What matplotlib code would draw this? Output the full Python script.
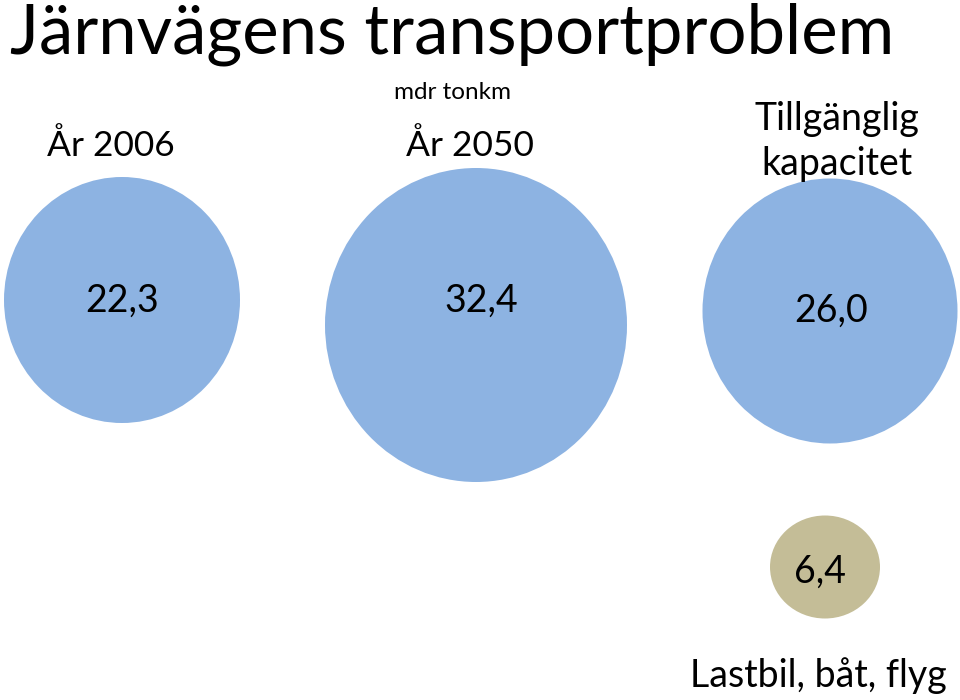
import matplotlib
matplotlib.use('Agg')
import matplotlib.pyplot as plt
from matplotlib.patches import Ellipse

# Data (mdr tonkm).
categories = ['År 2006', 'År 2050', 'Tillgänglig\nkapacitet', 'Lastbil, båt, flyg']
values = [22.3, 32.4, 26.0, 6.4]
title = 'Järnvägens transportproblem'
unit = 'mdr tonkm'

# Layout in pixels (x, y from the top left corner).
centers = [(122, 300), (476, 325), (830, 311), (825, 567)]
sizes = [(236, 246), (302, 314), (255, 265), (110, 103)]
colors = ['#8DB3E2', '#8DB3E2', '#8DB3E2', '#C4BD97']
value_pos = [(122, 312), (481, 312), (831, 322), (820, 583)]
cat_pos = [(111, 156), (470, 156), (837, 130), (818, 687)]
cat_sizes = [25.5, 25.5, 27, 27]

plt.rcParams['font.family'] = ['Lato', 'DejaVu Sans']

fig = plt.figure(figsize=(9.6, 7), dpi=100)
ax = fig.add_axes([0, 0, 1, 1])
ax.set_xlim(0, 960)
ax.set_ylim(700, 0)
ax.axis('off')

for (cx, cy), (w, h), c in zip(centers, sizes, colors):
    ax.add_patch(Ellipse((cx, cy), w, h, facecolor=c, edgecolor='none'))

for v, (x, y) in zip(values, value_pos):
    ax.text(x, y, f'{v:.1f}'.replace('.', ','), fontsize=27,
            ha='center', va='baseline', color='black')

# Category labels, one text per line.
for cat, (x, y), fs in zip(categories, cat_pos, cat_sizes):
    for i, line in enumerate(cat.split('\n')):
        ax.text(x, y + i * 45, line, fontsize=fs,
                ha='center', va='baseline', color='black')

ax.text(452, 99, unit, fontsize=17.5, ha='center', va='baseline')
ax.text(10, 53, title, fontsize=49.6, ha='left', va='baseline')

fig.savefig('out.png', dpi=100)
